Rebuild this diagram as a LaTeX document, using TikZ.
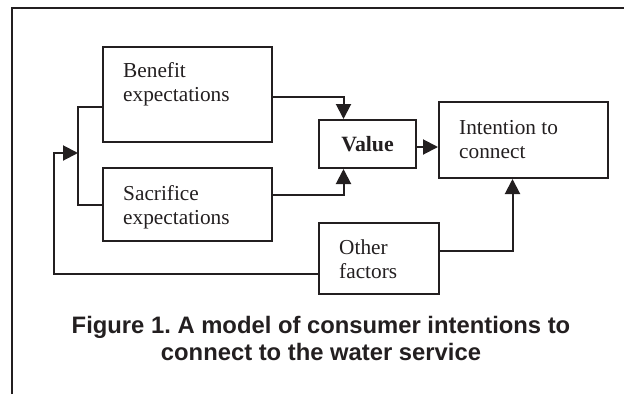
\documentclass[tikz,border=0pt]{standalone}
\usepackage{fontspec}
\setmainfont{Liberation Serif}
\newfontfamily\capfont{Liberation Sans}
\usetikzlibrary{arrows.meta}
\definecolor{ink}{RGB}{35,31,32}

\begin{document}
\begin{tikzpicture}[x=1pt,y=-1pt,
  box/.style={draw=ink, line width=2pt, inner sep=0pt, anchor=north west},
  txt/.style={anchor=base west, align=left, inner sep=0pt, text=ink, font=\fontsize{21.3}{24}\selectfont},
  arr/.style={draw=ink, line width=2pt, -{Triangle[length=15pt,width=15pt]}},
  link/.style={draw=ink, line width=2pt}]
\useasboundingbox (0,0) rectangle (624,394);
\draw[ink, line width=1.2pt] (12,394) -- (12,8) -- (624,8);
\node[box, minimum width=169pt, minimum height=95pt] (ben) at (102,46) {};
\node[box, minimum width=169pt, minimum height=73pt] (sac) at (102,167) {};
\node[box, minimum width=97pt, minimum height=48pt, text=ink, font=\bfseries\fontsize{21.8}{24}\selectfont] (val) at (318,119) {Value};
\node[box, minimum width=169pt, minimum height=76pt] (int) at (438,101) {};
\node[box, minimum width=120pt, minimum height=71pt] (oth) at (318,222) {};
\node[txt] (bentxt) at (123,101) {Benefit\\expectations};
\node[txt] (sactxt) at (123,224) {Sacrifice\\expectations};
\node[txt] (inttxt) at (459,158) {Intention to\\connect};
\node[txt] (othtxt) at (339,278) {Other\\factors};
\node[anchor=base, align=center, inner sep=0pt, text=ink, font=\capfont\bfseries\frenchspacing\fontsize{23.8}{26.5}\selectfont] (cap) at (321,360)
  {Figure 1. A model of consumer intentions to\\connect to the water service};
% connectors
\coordinate (fork) at (78,153);
\draw[link] ([yshift=-12pt]ben.west) -| (fork) |- (sac.west);
\draw[arr] ([yshift=-2pt]ben.east) -| ([xshift=-24pt]val.north);
\draw[arr] ([yshift=10pt]sac.east) -| ([xshift=-24pt]val.south);
\draw[arr] ([yshift=-3pt]val.east) -- ([yshift=-3pt]val.east -| int.west);
\draw[arr] ([yshift=8pt]oth.east) -| ([xshift=-11pt]int.south);
\draw[arr] ([yshift=-15pt]oth.west) -| ([xshift=-24pt]fork) -- (fork);
\end{tikzpicture}
\end{document}
